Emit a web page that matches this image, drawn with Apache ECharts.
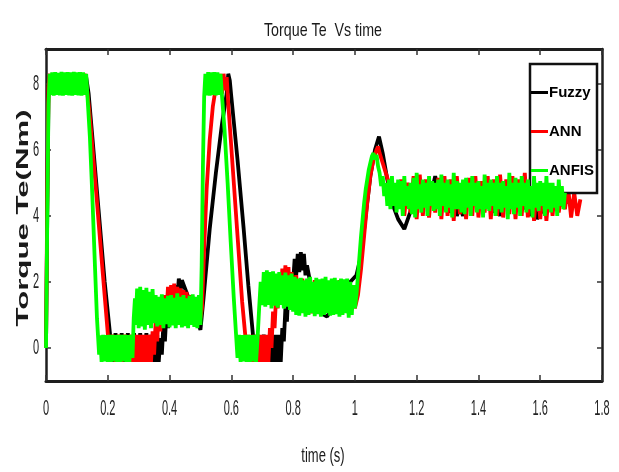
<!DOCTYPE html>
<html><head><meta charset="utf-8">
<script src="https://cdn.jsdelivr.net/npm/echarts@6/dist/echarts.min.js"></script>
<style>html,body{margin:0;padding:0;background:#fff}#c{width:619px;height:472px}</style>
</head><body><div id="c"></div>
<script>
const titleText = 'Torque Te  Vs time';
const xName = 'time (s)';
const yName = 'Torque Te(Nm)';
const xTickValues = [0, 0.2, 0.4, 0.6, 0.8, 1, 1.2, 1.4, 1.6, 1.8];
const xTickLabels = ['0', '0.2', '0.4', '0.6', '0.8', '1', '1.2', '1.4', '1.6', '1.8'];
const yTickValues = [0, 2, 4, 6, 8];
const yTickLabels = ['0', '2', '4', '6', '8'];
const seriesNames = ['Fuzzy', 'ANN', 'ANFIS'];

const fuzzy = [[0,0.0],[0.004,4.0],[0.008,7.6],[0.012,8.25],
[0.02,7.75],[0.03,8.3],[0.04,7.75],[0.05,8.3],[0.06,7.75],[0.07,8.3],[0.08,7.75],[0.09,8.3],[0.1,7.75],[0.11,8.3],[0.12,7.75],[0.13,8.2],[0.138,7.7],
[0.15,6.4],[0.17,4.2],[0.19,2.0],[0.207,0.45],
[0.215,-0.42],[0.225,0.45],[0.235,-0.42],[0.245,0.45],[0.255,-0.42],[0.265,0.45],[0.275,-0.42],[0.285,0.45],[0.295,-0.42],[0.305,0.45],[0.315,-0.42],[0.325,0.45],[0.335,-0.42],[0.34,0.4],[0.345,-0.42],[0.35,0.4],[0.355,-0.42],[0.36,0.4],[0.365,-0.42],
[0.37,0.3],[0.375,-0.2],[0.38,0.7],[0.385,0.2],[0.39,1.1],[0.395,0.6],[0.4,1.4],[0.405,1.0],[0.41,1.7],[0.415,1.3],[0.42,1.9],[0.425,1.5],[0.43,2.1],[0.435,1.7],[0.44,2.05],
[0.45,1.8],[0.46,1.55],[0.47,1.3],[0.48,1.05],[0.49,0.8],[0.5,0.55],
[0.51,1.5],[0.53,3.6],[0.55,5.3],[0.57,6.8],[0.585,7.7],[0.59,8.3],[0.595,8.1],
[0.6,7.6],[0.62,5.7],[0.64,3.6],[0.655,1.9],[0.67,0.4],
[0.675,-0.42],[0.685,0.4],[0.695,-0.42],[0.705,0.4],[0.715,-0.42],[0.725,0.4],[0.73,-0.42],[0.735,0.4],[0.74,-0.42],[0.745,0.4],[0.75,-0.42],[0.755,0.4],[0.76,-0.42],
[0.765,0.6],[0.77,0.2],[0.775,1.2],[0.78,0.8],[0.785,1.8],[0.79,1.4],[0.795,2.3],[0.8,2.0],
[0.805,2.7],[0.81,2.2],[0.815,2.85],[0.82,2.3],[0.825,2.9],[0.83,2.35],[0.835,2.85],[0.84,2.2],[0.845,2.5],
[0.855,2.0],[0.87,1.6],[0.885,1.25],[0.9,1.0],[0.91,0.95],[0.92,1.1],
[0.93,1.3],[0.95,1.6],[0.97,1.85],[0.99,2.05],[1.005,2.2],
[1.02,2.8],[1.035,4.0],[1.05,5.2],[1.065,6.0],[1.078,6.4],
[1.09,5.9],[1.105,5.1],[1.12,4.4],[1.14,3.9],[1.16,3.6],[1.175,4.0],[1.19,4.4],[1.2,4.6],
[1.21,4.3],[1.22,4.8],[1.23,4.5],[1.24,5.0],[1.25,4.8],[1.26,5.2],[1.27,4.7],[1.28,4.9],[1.29,4.3],[1.3,4.5],[1.31,4.1],[1.32,4.4],[1.33,4.0],[1.34,4.3],[1.35,4.0],[1.36,4.5],[1.37,4.4],[1.38,4.9],[1.39,4.7],[1.4,5.0],[1.41,4.6],[1.42,4.8],[1.43,4.3],[1.44,4.5],[1.45,4.1],[1.46,4.3],[1.47,4.0],[1.48,4.4],[1.49,4.3],[1.5,4.7],[1.51,4.6],[1.52,4.9],[1.53,4.5],[1.54,4.7],[1.55,4.2],[1.56,4.4],[1.57,4.0],[1.58,4.3],[1.59,3.9],[1.6,4.2],[1.61,4.1],[1.62,4.5],[1.63,4.3],[1.64,4.6],[1.65,4.2],[1.66,4.5],[1.67,4.3],[1.68,4.6],[1.69,4.4],[1.7,4.5]];

const ann = [[0,0.0],[0.004,4.5],[0.008,7.9],[0.012,8.3],
[0.015,7.7],[0.025,8.3],[0.035,7.7],[0.045,8.3],[0.055,7.7],[0.065,8.3],[0.075,7.7],[0.085,8.3],[0.095,7.7],[0.105,8.3],[0.115,7.7],[0.125,8.3],[0.133,7.8],
[0.14,7.2],[0.16,5.0],[0.18,2.7],[0.2,0.45],
[0.205,-0.42],[0.215,0.4],[0.225,-0.42],[0.235,0.4],[0.245,-0.42],[0.255,0.4],[0.265,-0.42],[0.275,0.4],[0.28,-0.42],[0.285,0.4],[0.29,-0.42],[0.295,0.4],[0.3,-0.42],[0.305,0.4],[0.31,-0.42],[0.315,0.4],[0.32,-0.42],[0.325,0.4],[0.33,-0.42],[0.335,0.4],[0.34,-0.42],
[0.345,0.5],[0.35,-0.2],[0.355,0.8],[0.36,0.2],[0.365,1.1],[0.37,0.5],[0.375,1.4],[0.38,0.8],[0.385,1.6],[0.39,1.1],[0.395,1.85],[0.4,1.3],
[0.405,1.9],[0.41,1.25],[0.415,1.95],[0.42,1.3],[0.425,1.85],[0.43,1.2],[0.435,1.8],[0.44,1.15],[0.445,1.75],[0.45,1.1],[0.455,1.7],[0.46,1.1],[0.465,1.6],[0.47,1.0],[0.475,1.55],[0.48,0.95],[0.485,1.5],[0.49,0.9],[0.495,1.4],[0.5,0.9],
[0.505,1.2],[0.512,3.0],[0.52,4.8],[0.53,6.3],[0.54,7.3],[0.55,7.9],[0.556,8.3],
[0.56,7.7],[0.565,8.3],[0.57,7.7],[0.575,8.3],[0.58,7.8],[0.585,8.2],
[0.59,7.4],[0.605,5.4],[0.62,3.4],[0.635,1.4],[0.645,0.4],
[0.65,-0.42],[0.655,0.4],[0.66,-0.42],[0.665,0.4],[0.67,-0.42],[0.675,0.4],[0.68,-0.42],[0.685,0.4],[0.69,-0.42],[0.695,0.4],[0.7,-0.42],[0.705,0.4],[0.71,-0.42],[0.715,0.4],[0.72,-0.42],
[0.725,0.6],[0.73,0.0],[0.735,1.1],[0.74,0.6],[0.745,1.6],[0.75,1.2],[0.755,2.1],[0.76,1.6],
[0.765,2.4],[0.77,1.7],[0.775,2.5],[0.78,1.6],[0.785,2.45],[0.79,1.5],[0.795,2.3],[0.8,1.4],[0.81,2.2],[0.82,1.2],[0.83,2.1],[0.84,1.1],[0.85,2.0],[0.86,1.05],[0.87,2.05],[0.88,1.05],[0.89,1.9],[0.9,1.1],[0.91,2.0],[0.92,1.2],[0.93,1.95],[0.94,1.1],[0.95,2.05],[0.96,1.15],[0.97,1.95],[0.98,1.05],[0.99,1.9],[1.0,1.2],
[1.01,1.6],[1.02,2.4],[1.03,3.4],[1.04,4.4],[1.05,5.2],[1.06,5.7],[1.07,6.0],[1.075,6.1],
[1.08,5.9],[1.09,5.6],[1.1,5.3],[1.11,5.0],[1.12,4.9],[1.13,4.8],
[1.14,4.3],[1.15,5.1],[1.16,4.0],[1.17,5.0],[1.18,4.1],[1.19,5.2],[1.2,3.9],[1.21,5.25],[1.22,4.0],[1.23,5.1],[1.24,3.95],[1.25,5.0],[1.26,4.1],[1.27,5.15],[1.28,3.9],[1.29,5.2],[1.3,4.0],[1.31,5.1],[1.32,3.85],[1.33,5.2],[1.34,4.05],[1.35,5.0],[1.36,3.9],[1.37,5.15],[1.38,4.0],[1.39,5.2],[1.4,3.95],[1.41,5.05],[1.42,4.1],[1.43,5.2],[1.44,3.9],[1.45,5.1],[1.46,4.0],[1.47,5.25],[1.48,3.95],[1.49,5.1],[1.5,4.05],[1.51,5.2],[1.52,3.9],[1.53,5.1],[1.54,4.0],[1.55,5.3],[1.56,3.95],[1.57,5.2],[1.58,3.85],[1.59,5.1],[1.6,3.9],[1.61,5.0],[1.62,3.85],[1.63,4.9],[1.64,4.0],[1.65,5.0],[1.66,4.1],[1.67,4.8],[1.68,4.2],[1.69,4.9],[1.7,3.95],[1.71,4.7],[1.72,4.0],[1.73,4.5]];

const anfis = [[0,0.0],[0.004,3.8],[0.008,7.4],[0.012,8.3],
[0.015,7.66],[0.02,8.34],[0.025,7.64],[0.03,8.35],[0.035,7.66],[0.04,8.33],[0.045,7.65],[0.05,8.36],[0.055,7.64],[0.06,8.34],[0.065,7.66],[0.07,8.35],[0.075,7.65],[0.08,8.34],[0.085,7.64],[0.09,8.36],[0.095,7.66],[0.1,8.34],[0.105,7.65],[0.11,8.35],[0.115,7.64],[0.12,8.34],[0.125,7.66],[0.13,8.3],
[0.135,7.5],[0.142,6.4],[0.15,4.6],[0.158,2.6],[0.165,0.9],[0.172,-0.2],
[0.175,0.38],[0.18,-0.42],[0.185,0.4],[0.19,-0.41],[0.195,0.39],[0.2,-0.42],[0.205,0.4],[0.21,-0.42],[0.215,0.4],[0.22,-0.41],[0.225,0.39],[0.23,-0.42],[0.235,0.4],[0.24,-0.42],[0.245,0.4],[0.25,-0.41],[0.255,0.4],[0.26,-0.42],[0.265,0.39],[0.27,-0.42],[0.275,0.4],[0.28,-0.3],
[0.284,0.9],[0.288,1.5],
[0.29,0.7],[0.295,1.8],[0.3,0.6],[0.305,1.85],[0.31,0.65],[0.315,1.75],[0.32,0.55],[0.325,1.82],[0.33,0.7],[0.335,1.7],[0.34,0.6],[0.345,1.78],[0.35,0.75],
[0.355,1.6],[0.36,0.65],[0.365,1.55],[0.37,0.7],[0.375,1.62],[0.38,0.6],[0.385,1.5],[0.39,0.72],[0.395,1.58],[0.4,0.62],[0.405,1.6],[0.41,0.68],[0.415,1.52],[0.42,0.6],[0.425,1.65],[0.43,0.7],[0.435,1.55],[0.44,0.62],[0.445,1.6],[0.45,0.66],[0.455,1.5],[0.46,0.6],[0.465,1.58],[0.47,0.7],[0.475,1.62],[0.48,0.64],[0.485,1.55],[0.49,0.6],[0.495,1.6],[0.5,0.7],
[0.504,2.5],[0.508,5.5],[0.512,7.6],[0.516,8.3],
[0.52,7.65],[0.525,8.35],[0.53,7.64],[0.535,8.34],[0.54,7.66],[0.545,8.35],[0.55,7.65],[0.555,8.34],[0.56,7.66],[0.565,8.3],[0.57,7.6],
[0.578,6.6],[0.588,5.0],[0.598,3.2],[0.608,1.5],[0.616,0.3],[0.62,-0.3],
[0.625,0.4],[0.63,-0.42],[0.635,0.39],[0.64,-0.41],[0.645,0.4],[0.65,-0.42],[0.655,0.4],[0.66,-0.42],[0.665,0.39],[0.67,-0.41],[0.675,0.4],[0.68,-0.42],[0.685,0.3],
[0.69,1.2],[0.695,2.0],
[0.7,1.3],[0.705,2.3],[0.71,1.25],[0.715,2.35],[0.72,1.3],[0.725,2.3],[0.73,1.2],[0.735,2.32],[0.74,1.28],[0.745,2.25],[0.75,1.22],[0.755,2.3],[0.76,1.3],[0.765,2.2],[0.77,1.2],[0.775,2.28],[0.78,1.25],[0.785,2.2],[0.79,1.15],[0.795,2.25],[0.8,1.1],
[0.805,2.15],[0.81,1.0],[0.815,2.1],[0.82,0.98],[0.825,2.12],[0.83,1.05],[0.835,2.05],[0.84,0.95],[0.845,2.1],[0.85,1.0],[0.855,2.15],[0.86,1.05],[0.865,2.0],[0.87,0.96],[0.875,2.12],[0.88,1.02],[0.885,2.08],[0.89,0.95],[0.895,2.1],[0.9,1.0],[0.905,2.15],[0.91,1.05],[0.915,2.05],[0.92,0.98],[0.925,2.1],[0.93,1.0],[0.935,2.12],[0.94,1.02],[0.945,2.05],[0.95,0.95],[0.955,2.1],[0.96,1.0],[0.965,2.08],[0.97,1.05],[0.975,2.1],[0.98,0.92],[0.985,2.0],[0.99,1.0],[0.995,1.9],[1.0,1.2],
[1.005,1.6],[1.01,2.2],[1.015,2.8],[1.02,3.4],[1.025,3.9],[1.03,4.4],[1.035,4.8],[1.04,5.1],[1.045,5.4],[1.05,5.6],[1.055,5.8],[1.06,5.9],[1.065,5.7],[1.07,5.85],[1.075,5.5],
[1.08,5.3],[1.085,4.9],[1.09,5.2],[1.095,4.6],[1.1,5.0],[1.105,4.3],[1.11,5.1],[1.115,4.2],
[1.12,5.2],[1.125,4.3],[1.13,5.0],[1.135,4.1],[1.14,5.1],[1.145,4.2],[1.15,5.05],[1.155,4.0],[1.16,5.2],[1.165,4.3],[1.17,4.9],[1.175,4.2],[1.18,5.0],[1.185,4.05],[1.19,5.15],[1.195,3.95],[1.2,5.3],[1.205,4.2],[1.21,4.95],[1.215,4.1],[1.22,5.1],[1.225,4.25],[1.23,5.0],[1.235,4.0],[1.24,5.2],[1.245,4.3],[1.25,5.05],[1.255,4.15],[1.26,5.0],[1.265,4.2],[1.27,5.1],[1.275,4.0],[1.28,5.25],[1.285,4.3],[1.29,5.0],[1.295,4.1],[1.3,5.1],[1.305,4.25],[1.31,4.95],[1.315,3.95],[1.32,5.3],[1.325,4.2],[1.33,5.05],[1.335,4.2],[1.34,5.0],[1.345,4.1],[1.35,5.1],[1.355,4.05],[1.36,5.15],[1.365,4.25],[1.37,5.0],[1.375,4.0],[1.38,5.2],[1.385,4.3],[1.39,5.0],[1.395,4.1],[1.4,5.05],[1.405,4.2],[1.41,4.9],[1.415,3.95],[1.42,5.25],[1.425,4.2],[1.43,5.0],[1.435,4.15],[1.44,5.1],[1.445,4.3],[1.45,5.0],[1.455,4.0],[1.46,5.2],[1.465,4.2],[1.47,5.0],[1.475,4.1],[1.48,5.05],[1.485,4.25],[1.49,4.9],[1.495,3.9],[1.5,5.3],[1.505,4.2],[1.51,5.0],[1.515,4.05],[1.52,5.15],[1.525,4.25],[1.53,5.0],[1.535,4.0],[1.54,5.2],[1.545,4.3],[1.55,5.0],[1.555,4.1],[1.56,5.1],[1.565,4.2],[1.57,4.9],[1.575,3.95],[1.58,5.2],[1.585,4.25],[1.59,5.0],[1.595,4.15],[1.6,5.05],[1.605,4.3],[1.61,5.0],[1.615,4.0],[1.62,5.2],[1.625,4.2],[1.63,5.0],[1.635,4.1],[1.64,5.0],[1.645,4.25],[1.65,4.9],[1.655,4.0],[1.66,5.1],[1.665,4.3],[1.67,4.9],[1.675,4.2],[1.68,4.7]];

const seriesData = [fuzzy, ann, anfis];
const seriesColors = ['#000000', '#ff0000', '#00ff00'];

const chart = echarts.init(document.getElementById('c'), null, {renderer: 'canvas'});
const axisColor = '#1e1e1e';
function xAx(pos) {
  return {type: 'value', position: pos, min: 0, max: 1.8, interval: 0.2,
    axisLine: {show: true, onZero: false, lineStyle: {color: axisColor, width: 3}},
    axisTick: {show: true, inside: true, length: 6, lineStyle: {color: '#333', width: 1.5}},
    axisLabel: {show: false}, splitLine: {show: false}};
}
function yAx(pos) {
  return {type: 'value', position: pos, min: -1, max: 9.05,
    axisLine: {show: true, onZero: false, lineStyle: {color: axisColor, width: 2.5}},
    axisTick: {show: true, inside: true, length: 5, customValues: yTickValues, lineStyle: {color: '#333', width: 1.5}},
    axisLabel: {show: false}, splitLine: {show: false}};
}
const option = {
  animation: false,
  backgroundColor: '#fff',
  grid: {left: 46, right: 17, top: 49, bottom: 91, show: false},
  xAxis: [xAx('bottom'), xAx('top')],
  yAxis: [yAx('left'), yAx('right')],
  legend: {
    data: seriesNames, orient: 'vertical', left: 530, top: 64,
    icon: 'rect', itemWidth: 17, itemHeight: 3, itemGap: 24,
    backgroundColor: '#fff', borderColor: '#111', borderWidth: 2.5, borderRadius: 0,
    padding: [21, 3, 15, 1],
    textStyle: {fontSize: 15, fontWeight: 'bold', fontFamily: "'Liberation Sans', Arial, sans-serif", color: '#000', padding: [0, 0, 0, -4]}
  },
  series: seriesNames.map((n, i) => ({
    name: n, type: 'line', data: seriesData[i], xAxisIndex: 0, yAxisIndex: 0,
    showSymbol: false, symbol: 'none', z: 2 + i,
    lineStyle: {color: seriesColors[i], width: 3.8, join: 'bevel'},
    itemStyle: {color: seriesColors[i]}
  }))
};
chart.setOption(option);

const g = [];
const lblFont = 'Liberation Sans, Arial, sans-serif';
xTickValues.forEach((v, i) => {
  const px = chart.convertToPixel({xAxisIndex: 0}, v);
  g.push({type: 'text', x: px, y: 409, scaleX: 0.5, style: {text: xTickLabels[i], fontSize: 22, fontFamily: lblFont, fill: '#222', align: 'center', verticalAlign: 'middle'}});
});
yTickValues.forEach((v, i) => {
  const py = chart.convertToPixel({yAxisIndex: 0}, v);
  g.push({type: 'text', x: 36, y: py, scaleX: 0.5, style: {text: yTickLabels[i], fontSize: 22, fontFamily: lblFont, fill: '#222', align: 'center', verticalAlign: 'middle'}});
});
g.push({type: 'text', x: 323, y: 31, scaleX: 0.75, style: {text: titleText, fontSize: 19, fontFamily: lblFont, fill: '#1a1a1a', align: 'center', verticalAlign: 'middle'}});
g.push({type: 'text', x: 323, y: 456, scaleX: 0.62, style: {text: xName, fontSize: 21, fontFamily: lblFont, fill: '#1a1a1a', align: 'center', verticalAlign: 'middle'}});
g.push({type: 'text', x: 24, y: 218, rotation: Math.PI / 2, scaleX: 1.95, style: {text: yName, fontSize: 16, fontWeight: 'bold', fontFamily: lblFont, fill: '#1a1a1a', align: 'center', verticalAlign: 'middle'}});
chart.setOption({graphic: g});
</script>
</body></html>
